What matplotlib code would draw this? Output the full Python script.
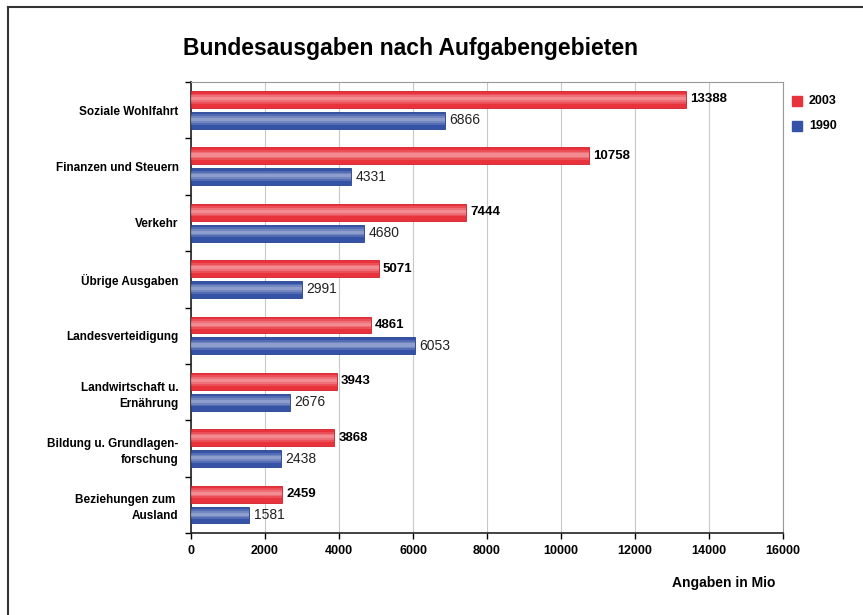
import matplotlib.pyplot as plt
import numpy as np

plt.rcParams['font.family'] = ['Liberation Sans', 'DejaVu Sans']

# data
categories = ["Soziale Wohlfahrt", "Finanzen und Steuern", "Verkehr", "Übrige Ausgaben",
              "Landesverteidigung", "Landwirtschaft u.\nErnährung",
              "Bildung u. Grundlagen-\nforschung", "Beziehungen zum \nAusland"]
v2003 = [13388, 10758, 7444, 5071, 4861, 3943, 3868, 2459]
v1990 = [6866, 4331, 4680, 2991, 6053, 2676, 2438, 1581]
xticks = [0, 2000, 4000, 6000, 8000, 10000, 12000, 14000, 16000]

fig = plt.figure(figsize=(8.63, 6.15), dpi=100)
ax = fig.add_axes([191/863, (615-533)/615, 592/863, 451/615])

y = np.arange(len(categories))
h = 0.30
red = '#e8323c'
blue = '#3553a6'

# base bars, then soft white stripes for the shaded look
r = ax.barh(y - 0.19, v2003, height=h, color=red, edgecolor='#d41e29', lw=0.6, zorder=3)
b = ax.barh(y + 0.18, v1990, height=h, color=blue, edgecolor='#23428f', lw=0.6, zorder=3)
for frac, a in [(0.6, 0.15), (0.38, 0.18), (0.18, 0.2)]:
    ax.barh(y - 0.205, v2003, height=h * frac, color='white', alpha=a, lw=0, zorder=4)
    ax.barh(y + 0.165, v1990, height=h * frac, color='white', alpha=a, lw=0, zorder=4)

ax.bar_label(r, labels=[str(v) for v in v2003], padding=3, fontsize=9.5, fontweight='bold', zorder=5)
ax.bar_label(b, labels=[str(v) for v in v1990], padding=3, fontsize=10, color='#222222', zorder=5)

ax.set_xlim(0, 16000)
ax.set_ylim(len(categories) - 0.5, -0.5)
ax.set_xticks(xticks)
ax.set_xticklabels([str(t) for t in xticks], fontsize=9, fontweight='bold')
ax.set_yticks(y)
ax.set_yticklabels(categories, fontsize=8.5, fontweight='bold', ha='right',
                   multialignment='right', linespacing=1.45)
ax.tick_params(axis='y', length=0, pad=9)
ax.set_yticks(np.arange(len(categories) + 1) - 0.5, minor=True)
ax.tick_params(axis='y', which='minor', length=4, width=1, direction='out')
ax.tick_params(axis='x', length=4, width=1, direction='out', pad=5)

ax.grid(axis='x', color='#c8c8c8', lw=0.8, zorder=0)
ax.set_axisbelow(True)
for s in ['top', 'right']:
    ax.spines[s].set_color('#999999')
for s in ['left', 'bottom']:
    ax.spines[s].set_color('#222222')
    ax.spines[s].set_linewidth(1.2)

ax.set_xlabel("Angaben in Mio", fontsize=10, fontweight='bold')
ax.xaxis.set_label_coords(0.9, -0.095)

fig.text(410/863, 1 - 48/615, "Bundesausgaben nach Aufgabengebieten", fontsize=16.5,
         fontweight='bold', ha='center', va='center')

# legend
fig.patches.append(plt.Rectangle((792/863, 1 - 106/615), 10/863, 10/615, color=red,
                                 transform=fig.transFigure, figure=fig))
fig.patches.append(plt.Rectangle((792/863, 1 - 131/615), 10/863, 10/615, color=blue,
                                 transform=fig.transFigure, figure=fig))
fig.text(809/863, 1 - 101/615, "2003", fontsize=9, fontweight='bold', va='center')
fig.text(809/863, 1 - 126/615, "1990", fontsize=9, fontweight='bold', va='center')

# outer frame (top and left)
fig.add_artist(plt.Line2D([8/863, 1], [1 - 7/615, 1 - 7/615], color='#333333', lw=1.5))
fig.add_artist(plt.Line2D([8/863, 8/863], [0, 1 - 7/615], color='#333333', lw=1.5))

fig.savefig("out.png", dpi=100)
